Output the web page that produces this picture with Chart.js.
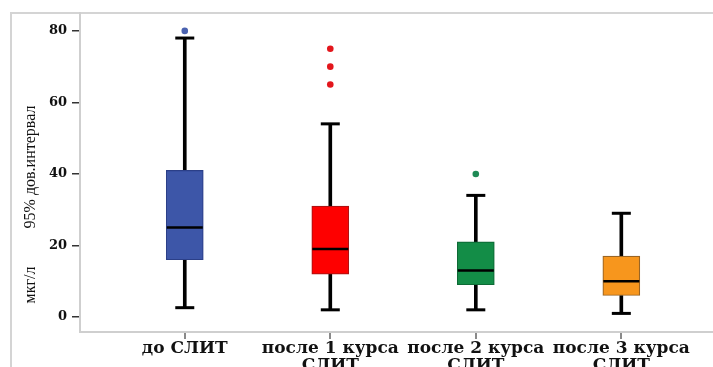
<!DOCTYPE html>
<html>
<head>
<meta charset="utf-8">
<script src="https://cdn.jsdelivr.net/npm/chart.js@4/dist/chart.umd.min.js"></script>
<style>
html,body{margin:0;padding:0;background:#fff;overflow:hidden;}
#wrap{position:relative;width:713px;height:367px;}
#frame{position:absolute;left:10px;top:12px;width:710px;height:360px;border-left:2px solid #d4d4d4;border-top:2px solid #d4d4d4;}
canvas{position:absolute;left:0;top:0;}
</style>
</head>
<body>
<div id="wrap"><div id="frame"></div><canvas id="c" width="713" height="367"></canvas></div>
<script>
// ---- data ----
const categories = ['до СЛИТ', ['после 1 курса', 'СЛИТ'], ['после 2 курса', 'СЛИТ'], ['после 3 курса', 'СЛИТ']];
const mins    = [2.6, 2.0, 2.0, 1.0];
const q1s     = [16, 12, 9, 6];
const medians = [25, 19, 13, 10];
const q3s     = [41, 31, 21, 17];
const maxs    = [78, 54, 34, 29];
const outlierCat = [1, 2, 2, 2, 3];
const outlierVal = [80, 75, 70, 65, 40];
const yTicks = [0, 20, 40, 60, 80];
const fills   = ['#3d56a8', '#fe0000', '#138d47', '#f7961d'];
const borders = ['#2b3f88', '#b01010', '#0d6a35', '#9a6524'];
const dotColors = ['#4a62b0', '#e3161c', '#1f8a55'];

const pos = categories.map((c, i) => i + 1);

const boxData = pos.map((x, i) => ({x: x, y: [q1s[i], q3s[i]]}));
const lowWhisk = pos.map((x, i) => ({x: x, y: [mins[i], q1s[i]]}));
const highWhisk = pos.map((x, i) => ({x: x, y: [q3s[i], maxs[i]]}));
const capData = pos.flatMap((x, i) => [{x: x, y: mins[i]}, {x: x, y: maxs[i]}]);
const medData = pos.map((x, i) => ({x: x, y: medians[i]}));
const outData = outlierCat.map((x, i) => ({x: x, y: outlierVal[i]}));
const outCols = outlierCat.map(x => dotColors[x - 1]);

const titlePlugin = {
  id: 'ytitle',
  afterDraw(chart) {
    const ctx = chart.ctx;
    ctx.save();
    ctx.fillStyle = '#111';
    ctx.font = '16px "Liberation Serif"';
    ctx.textAlign = 'center';
    ctx.textBaseline = 'alphabetic';
    [['мкг/л', 285], ['95% дов.интервал', 167]].forEach(([t, y]) => {
      ctx.save();
      ctx.translate(35, y);
      ctx.rotate(-Math.PI / 2);
      ctx.fillText(t, 0, 0);
      ctx.restore();
    });
    ctx.restore();
  }
};

new Chart(document.getElementById('c'), {
  type: 'bar',
  data: {
    datasets: [
      {type: 'bar', data: lowWhisk, backgroundColor: '#000', barThickness: 3, grouped: false, order: 5, borderWidth: 0},
      {type: 'bar', data: highWhisk, backgroundColor: '#000', barThickness: 3, grouped: false, order: 5, borderWidth: 0},
      {type: 'bar', data: boxData, backgroundColor: fills, borderColor: borders, borderWidth: 1.2, borderSkipped: false, barThickness: 37, grouped: false, order: 3},
      {type: 'scatter', data: capData, pointStyle: 'line', radius: 9.5, borderColor: '#000', borderWidth: 3, order: 1},
      {type: 'scatter', data: medData, pointStyle: 'line', radius: 18, borderColor: '#000', borderWidth: 2.5, order: 1},
      {type: 'scatter', data: outData, pointStyle: 'circle', radius: 3.3, backgroundColor: outCols, borderColor: outCols, borderWidth: 0, order: 1}
    ]
  },
  options: {
    responsive: false,
    animation: false,
    devicePixelRatio: 1,
    layout: {autoPadding: false, padding: {top: 13, left: 0, right: 0, bottom: 0}},
    plugins: {legend: {display: false}, tooltip: {enabled: false}},
    scales: {
      x: {
        type: 'linear', min: 0.28, max: 4.63, offset: false,
        afterFit: s => { s.height = 35; s.paddingLeft = 0; s.paddingRight = 0; },
        afterBuildTicks: s => { s.ticks = pos.map(v => ({value: v})); },
        grid: {drawOnChartArea: false, drawTicks: true, tickLength: 7, color: '#8a8a8a', lineWidth: 2, offset: false},
        border: {color: '#cfcfcf', width: 2},
        ticks: {
          autoSkip: false, maxRotation: 0, minRotation: 0, padding: 2, color: '#111',
          font: {family: '"DejaVu Serif"', weight: 'bold', size: 17, lineHeight: 0.95},
          callback: v => categories[v - 1]
        }
      },
      y: {
        type: 'linear', min: -4.2, max: 85,
        afterFit: s => { s.width = 80; s.paddingTop = 0; s.paddingBottom = 0; },
        afterBuildTicks: s => { s.ticks = yTicks.map(v => ({value: v})); },
        grid: {drawOnChartArea: false, drawTicks: true, tickLength: 8, color: '#333', lineWidth: 1.5},
        border: {color: '#cfcfcf', width: 2},
        ticks: {color: '#111', padding: 5, font: {family: '"DejaVu Serif"', weight: 'bold', size: 13}}
      }
    }
  },
  plugins: [titlePlugin]
});
</script>
</body>
</html>
